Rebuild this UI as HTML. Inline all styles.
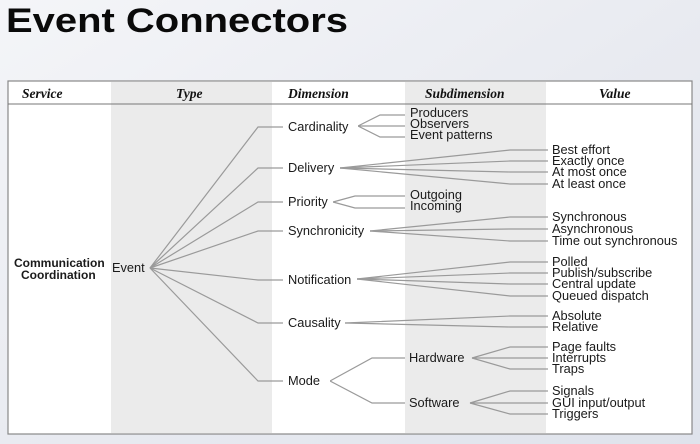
<!DOCTYPE html>
<html><head><meta charset="utf-8"><style>
html,body{margin:0;padding:0;width:700px;height:444px;overflow:hidden;background:#eef0f5;}
svg{display:block}
text{font-family:"Liberation Sans",Arial,sans-serif;fill:#1a1a1a;font-size:12.8px}
.h{font-family:"Liberation Serif",serif;font-style:italic;font-weight:bold;font-size:13.5px;fill:#111}
</style></head><body>
<svg width="700" height="444" viewBox="0 0 700 444">
<defs><linearGradient id="bg" x1="0" y1="0" x2="1" y2="1"><stop offset="0" stop-color="#f4f5f8"/><stop offset="0.5" stop-color="#e9ebf1"/><stop offset="1" stop-color="#dfe3ec"/></linearGradient></defs>
<rect width="700" height="444" fill="url(#bg)"/>
<text x="6" y="32" style="font-size:34px;font-weight:bold;fill:#0a0a0a" textLength="342" lengthAdjust="spacingAndGlyphs">Event Connectors</text>
<rect x="8" y="81" width="684" height="353" fill="#fff" stroke="#888" stroke-width="1.2"/>
<rect x="111" y="82" width="161" height="351" fill="#ebebeb"/>
<rect x="405" y="82" width="141" height="351" fill="#ebebeb"/>
<line x1="8" y1="104" x2="692" y2="104" stroke="#777" stroke-width="1"/>
<text class="h" x="22" y="98">Service</text>
<text class="h" x="176" y="98">Type</text>
<text class="h" x="288" y="98">Dimension</text>
<text class="h" x="425" y="98">Subdimension</text>
<text class="h" x="599" y="98">Value</text>
<g fill="none" stroke="#9a9a9a" stroke-width="1.2">
<polyline points="150,268 258,127 283,127"/>
<polyline points="150,268 258,168 283,168"/>
<polyline points="150,268 258,202 283,202"/>
<polyline points="150,268 258,231 283,231"/>
<polyline points="150,268 258,280 283,280"/>
<polyline points="150,268 258,323 283,323"/>
<polyline points="150,268 258,381 283,381"/>
<polyline points="358,126 380,115 405,115"/><polyline points="358,126 405,126"/><polyline points="358,126 380,137 405,137"/>
<polyline points="340,168 510,150 548,150"/><polyline points="340,168 510,161 548,161"/><polyline points="340,168 510,172 548,172"/><polyline points="340,168 510,184 548,184"/>
<polyline points="333,202 355,196 405,196"/><polyline points="333,202 355,208 405,208"/>
<polyline points="370,231 510,217 548,217"/><polyline points="370,231 510,229 548,229"/><polyline points="370,231 510,241 548,241"/>
<polyline points="357,279 510,262 548,262"/><polyline points="357,279 510,273 548,273"/><polyline points="357,279 510,284 548,284"/><polyline points="357,279 510,296 548,296"/>
<polyline points="345,323 510,316 548,316"/><polyline points="345,323 510,327 548,327"/>
<polyline points="330,381 372,358 405,358"/><polyline points="330,381 372,403 405,403"/>
<polyline points="472,358 510,347 548,347"/><polyline points="472,358 510,358 548,358"/><polyline points="472,358 510,369 548,369"/>
<polyline points="470,403 510,391 548,391"/><polyline points="470,403 510,403 548,403"/><polyline points="470,403 510,414 548,414"/>
</g>
<rect x="286" y="120" width="72" height="13" fill="#fff"/>
<rect x="286" y="161" width="54" height="13" fill="#fff"/>
<rect x="286" y="195" width="47" height="13" fill="#fff"/>
<rect x="286" y="224" width="84" height="13" fill="#fff"/>
<rect x="286" y="273" width="71" height="13" fill="#fff"/>
<rect x="286" y="316" width="59" height="13" fill="#fff"/>
<rect x="286" y="374" width="44" height="13" fill="#fff"/>
<text x="14" y="267" style="font-weight:bold;font-size:12px">Communication</text>
<text x="21" y="279" style="font-weight:bold;font-size:12px">Coordination</text>
<text x="112" y="272">Event</text>
<text x="288" y="131">Cardinality</text>
<text x="288" y="172">Delivery</text>
<text x="288" y="206">Priority</text>
<text x="288" y="235">Synchronicity</text>
<text x="288" y="284">Notification</text>
<text x="288" y="327">Causality</text>
<text x="288" y="385">Mode</text>
<text x="410" y="117">Producers</text>
<text x="410" y="128">Observers</text>
<text x="410" y="139">Event patterns</text>
<text x="410" y="199">Outgoing</text>
<text x="410" y="210">Incoming</text>
<text x="409" y="362">Hardware</text>
<text x="409" y="407">Software</text>
<text x="552" y="154">Best effort</text>
<text x="552" y="165">Exactly once</text>
<text x="552" y="176">At most once</text>
<text x="552" y="188">At least once</text>
<text x="552" y="221">Synchronous</text>
<text x="552" y="233">Asynchronous</text>
<text x="552" y="245">Time out synchronous</text>
<text x="552" y="266">Polled</text>
<text x="552" y="277">Publish/subscribe</text>
<text x="552" y="288">Central update</text>
<text x="552" y="300">Queued dispatch</text>
<text x="552" y="320">Absolute</text>
<text x="552" y="331">Relative</text>
<text x="552" y="351">Page faults</text>
<text x="552" y="362">Interrupts</text>
<text x="552" y="373">Traps</text>
<text x="552" y="395">Signals</text>
<text x="552" y="407">GUI input/output</text>
<text x="552" y="418">Triggers</text>
</svg>
</body></html>
